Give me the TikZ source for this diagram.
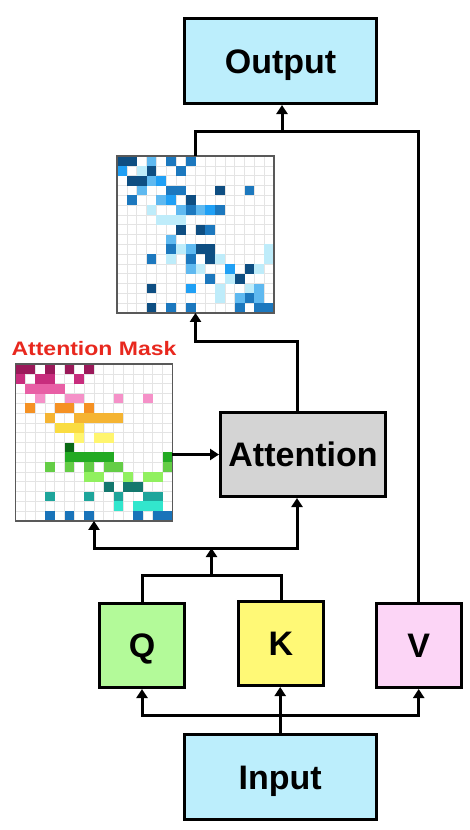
\documentclass[tikz,border=0pt]{standalone}
\usepackage{fontspec}
\setmainfont{Liberation Sans}
\newfontfamily\maskfont[FakeStretch=1.18]{Liberation Sans}
\usetikzlibrary{arrows.meta,positioning,calc}
\definecolor{boxcyan}{RGB}{188,238,252}
\definecolor{boxgray}{RGB}{212,212,212}
\definecolor{qgreen}{RGB}{179,250,153}
\definecolor{kyellow}{RGB}{255,249,118}
\definecolor{vpink}{RGB}{252,213,246}
\definecolor{maskred}{RGB}{232,40,30}
\definecolor{cellline}{RGB}{228,228,228}
% attention map blues
\definecolor{bnavy}{RGB}{14,78,130}
\definecolor{bmid}{RGB}{28,120,190}
\definecolor{bbright}{RGB}{32,160,245}
\definecolor{blight}{RGB}{95,185,240}
\definecolor{bpale}{RGB}{190,236,250}
% mask palette
\definecolor{mwine}{RGB}{155,25,90}
\definecolor{mmagenta}{RGB}{200,45,125}
\definecolor{mpink}{RGB}{232,95,165}
\definecolor{mrose}{RGB}{245,145,200}
\definecolor{morange}{RGB}{245,145,35}
\definecolor{mamber}{RGB}{245,180,50}
\definecolor{myellow}{RGB}{250,220,65}
\definecolor{mlemon}{RGB}{255,245,110}
\definecolor{mforest}{RGB}{10,105,20}
\definecolor{mgreen}{RGB}{35,170,35}
\definecolor{mlime}{RGB}{100,205,70}
\definecolor{mmint}{RGB}{145,240,95}
\definecolor{mteal}{RGB}{20,120,110}
\definecolor{mjade}{RGB}{30,165,155}
\definecolor{maqua}{RGB}{50,230,205}
\definecolor{mblue}{RGB}{25,115,185}
\tikzset{
  >={Triangle[width=11pt,length=9pt]},
  box/.style={draw=black,fill=#1,line width=3pt,minimum width=192pt,minimum height=85pt,
    text height=24pt,text depth=0pt,font=\fontsize{34}{40}\selectfont\bfseries},
  box/.default=boxcyan,
  sq/.style={box=#1,minimum width=85pt,minimum height=84pt},
  heatgrid/.style={minimum size=156.8pt,inner sep=0pt,outer sep=0pt},
  gridframe/.style={draw=black!65,line width=1.3pt},
  gridline/.style={draw=cellline,line width=0.7pt},
  line/.style={draw=black,line width=3pt},
  flow/.style={->,line/.try,draw=black,line width=3pt},
}

\begin{document}
\begin{tikzpicture}[x=1pt,y=-1pt]
  \useasboundingbox (0,0) rectangle (470,830);
  \node[box] (output) at (280.5,61) {Output};
  \node[heatgrid] (map) at (195.5,234.5) {};
  \node[box=boxgray,minimum width=165pt,minimum height=84pt] (attn) at (303,454.5) {Attention};
  \node[heatgrid] (mask) at (94,442.5) {};
  \node[font=\maskfont\fontsize{19.5}{22}\selectfont\bfseries,text=maskred,
    text height=14pt,text depth=0pt] (masklabel) at (94,348.5) {Attention Mask};
  \node[sq=qgreen] (q) at (142,645.5) {Q};
  \node[sq=kyellow] (k) at (281,643.5) {K};
  \node[sq=vpink] (v) at (418.7,645.5) {V};
  \node[box] (input) at (280.2,777.3) {Input};

  % attention map
  \begin{scope}[shift={(map.north west)}]
    \foreach \i in {1,...,15}
      \draw[gridline] (\i*9.8,0) -- (\i*9.8,156.8) (0,\i*9.8) -- (156.8,\i*9.8);
    \foreach \r/\c/\k in {0/0/bnavy,0/1/bnavy,0/3/blight,0/5/bmid,0/7/bmid,
      1/0/bbright,1/2/bpale,1/3/bnavy,1/6/bmid,
      2/1/bnavy,2/2/bnavy,2/3/blight,2/4/bbright,
      3/2/blight,3/5/bmid,3/6/bmid,3/10/bnavy,3/13/bmid,
      4/1/bmid,4/4/blight,4/5/bbright,4/7/bnavy,
      5/3/bpale,5/6/blight,5/7/bmid,5/8/blight,5/9/bbright,5/10/bmid,
      6/4/bpale,6/5/bpale,6/6/bpale,
      7/6/bnavy,7/8/bnavy,7/9/bmid,
      8/5/blight,
      9/5/bmid,9/6/bpale,9/7/blight,9/8/bnavy,9/9/bnavy,9/15/bpale,
      10/3/bmid,10/5/bpale,10/7/bmid,10/9/bnavy,10/10/bpale,10/15/bpale,
      11/7/blight,11/8/bpale,11/11/bbright,11/13/bnavy,11/14/bpale,
      12/9/bmid,12/11/bpale,12/12/bnavy,
      13/3/bnavy,13/7/bbright,13/10/bpale,13/13/bpale,13/14/blight,
      14/10/bpale,14/12/blight,14/13/bmid,14/14/blight,
      15/3/bnavy,15/5/bmid,15/7/bmid,15/12/bmid,15/14/bmid,15/15/bmid}
      \fill[\k] (\c*9.8,\r*9.8) rectangle ++(9.8,9.8);
  \end{scope}
  \draw[gridframe] (map.north west) rectangle (map.south east);

  % attention mask
  \begin{scope}[shift={(mask.north west)}]
    \foreach \i in {1,...,15}
      \draw[gridline] (\i*9.8,0) -- (\i*9.8,156.8) (0,\i*9.8) -- (156.8,\i*9.8);
    \foreach \r/\c/\k in {0/0/mwine,0/1/mwine,0/3/mwine,0/5/mwine,0/7/mwine,
      1/0/mmagenta,1/2/mmagenta,1/3/mmagenta,1/6/mmagenta,
      2/1/mpink,2/2/mpink,2/3/mpink,2/4/mpink,
      3/2/mrose,3/5/mrose,3/6/mrose,3/10/mrose,3/13/mrose,
      4/1/morange,4/4/morange,4/5/morange,4/7/morange,
      5/3/mamber,5/6/mamber,5/7/mamber,5/8/mamber,5/9/mamber,5/10/mamber,
      6/4/myellow,6/5/myellow,6/6/myellow,
      7/6/mlemon,7/8/mlemon,7/9/mlemon,
      8/5/mforest,
      9/5/mgreen,9/6/mgreen,9/7/mgreen,9/8/mgreen,9/9/mgreen,9/15/mgreen,
      10/3/mlime,10/5/mlime,10/7/mlime,10/9/mlime,10/10/mlime,10/15/mlime,
      11/7/mmint,11/8/mmint,11/11/mmint,11/13/mmint,11/14/mmint,
      12/9/mteal,12/11/mteal,12/12/mteal,
      13/3/mjade,13/7/mjade,13/10/mjade,13/13/mjade,13/14/mjade,
      14/10/maqua,14/12/maqua,14/13/maqua,14/14/maqua,
      15/3/mblue,15/5/mblue,15/7/mblue,15/12/mblue,15/14/mblue,15/15/mblue}
      \fill[\k] (\c*9.8,\r*9.8) rectangle ++(9.8,9.8);
  \end{scope}
  \draw[gridframe] (mask.north west) rectangle (mask.south east);

  % input -> q, k, v
  \path (input.north) ++(0,-18) coordinate (fan);
  \draw[flow] (input.north) -- (input.north |- k.south);
  \draw[flow] (fan) -| (q.south);
  \draw[flow] (fan) -| (v.south);

  % q, k -> mask and attention
  \path (q.north) ++(0,-27) coordinate (qk);
  \draw[line] (q.north) -- (qk) -| (k.north);
  \coordinate (qkmid) at ($(qk)!0.5!(k.north |- qk)$);
  \path (qkmid) ++(0,-27) coordinate (mix);
  \draw[flow] (qkmid) -- (mix);
  \draw[flow] (mix) -| (mask.south);
  \draw[flow] (mix) -| ([xshift=-6pt]attn.south);
  \draw[flow] (mask.east |- attn.west) -- (attn.west);

  % attention -> map -> output, v -> output
  \path ([xshift=-6pt]attn.north) ++(0,-70) coordinate (turn);
  \draw[flow] ([xshift=-6pt]attn.north) -- (turn) -| (map.south);
  \path (output.south) ++(1.5,26) coordinate (merge);
  \draw[line] (map.north) |- (merge);
  \draw[line] (v.north) |- (merge);
  \draw[flow] (merge) -- (merge |- output.south);
\end{tikzpicture}
\end{document}
